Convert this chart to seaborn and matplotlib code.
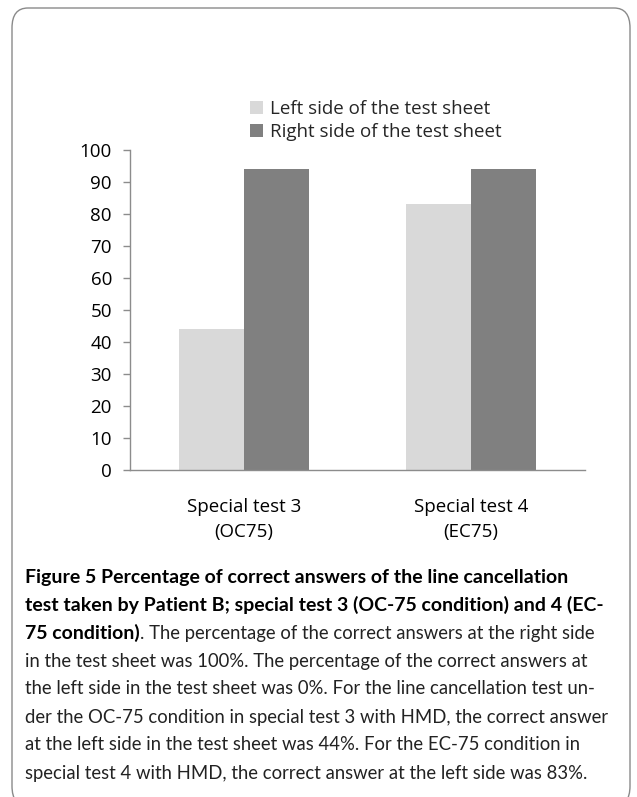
import matplotlib
matplotlib.use("Agg")
import matplotlib.pyplot as plt
import seaborn as sns
import pandas as pd
from matplotlib.patches import FancyBboxPatch

categories = ["Special test 3\n(OC75)", "Special test 4\n(EC75)"]
series_names = ["Left side of the test sheet", "Right side of the test sheet"]
left_values = [44, 83]
right_values = [94, 94]
yticks = [0, 10, 20, 30, 40, 50, 60, 70, 80, 90, 100]
colors = ["#D9D9D9", "#808080"]

caption_bold_lines = [
    "Figure 5 Percentage of correct answers of the line cancellation",
    "test taken by Patient B; special test 3 (OC-75 condition) and 4 (EC-",
]
caption_mixed_bold = "75 condition)"
caption_mixed_regular = ". The percentage of the correct answers at the right side"
caption_regular_lines = [
    "in the test sheet was 100%. The percentage of the correct answers at",
    "the left side in the test sheet was 0%. For the line cancellation test un-",
    "der the OC-75 condition in special test 3 with HMD, the correct answer",
    "at the left side in the test sheet was 44%. For the EC-75 condition in",
    "special test 4 with HMD, the correct answer at the left side was 83%.",
]

sns.set_theme(style="white")
plt.rcParams["font.family"] = ["Open Sans", "DejaVu Sans"]

W, H = 637, 797
fig = plt.figure(figsize=(W / 100, H / 100), dpi=100)
fig.patch.set_facecolor("white")

# border
border = FancyBboxPatch((12 / W, 1 - 806 / H), 618 / W, 798 / H,
                        boxstyle="round,pad=0,rounding_size=0.025",
                        transform=fig.transFigure, fill=False,
                        edgecolor="#8a8a8a", linewidth=1.0)
fig.patches.append(border)

ax = fig.add_axes([130 / W, 1 - 470 / H, 455 / W, 320 / H])

df = pd.DataFrame({
    "category": categories * 2,
    "series": [series_names[0]] * 2 + [series_names[1]] * 2,
    "value": left_values + right_values,
})
sns.barplot(data=df, x="category", y="value", hue="series",
            palette=colors, width=0.572, ax=ax, saturation=1,
            edgecolor="none", linewidth=0)

ax.set_ylim(0, 100)
ax.set_xlim(-0.5, 1.5)
ax.set_yticks(yticks)
ax.set_xlabel("")
ax.set_ylabel("")
for s in ["top", "right"]:
    ax.spines[s].set_visible(False)
for s in ["left", "bottom"]:
    ax.spines[s].set_color("#8c8c8c")
    ax.spines[s].set_linewidth(1.0)
ax.tick_params(axis="y", which="major", left=True, length=5, width=1,
               color="#8c8c8c", labelsize=13.5, pad=8, labelcolor="black")
ax.tick_params(axis="x", which="major", bottom=False, labelsize=13.5, pad=14,
               labelcolor="black")
for lbl in ax.get_xticklabels():
    lbl.set_linespacing(1.5)

leg = ax.legend(loc="upper left", bbox_to_anchor=(250 / W, 1 - 100 / H),
                bbox_transform=fig.transFigure, frameon=False,
                fontsize=13.5, handlelength=0.7, handleheight=0.7,
                handletextpad=0.35, labelspacing=0.28, borderaxespad=0,
                borderpad=0)

# caption
bold_size = 14.0
reg_size = 13.35
x0 = 25 / W
line_y = [577, 605, 633, 661, 689, 717, 745, 773]
cap_family = ["Lato", "DejaVu Sans"]
for i, t in enumerate(caption_bold_lines):
    fig.text(x0, 1 - line_y[i] / H, t, fontsize=bold_size, fontweight="bold",
             family=cap_family, va="center", ha="left", color="black")
tb = fig.text(x0, 1 - line_y[2] / H, caption_mixed_bold, fontsize=bold_size,
              fontweight="bold", family=cap_family, va="center", ha="left",
              color="black")
fig.canvas.draw()
bb = tb.get_window_extent(renderer=fig.canvas.get_renderer())
fig.text(bb.x1 / W, 1 - line_y[2] / H, caption_mixed_regular, fontsize=reg_size,
         family=cap_family, va="center", ha="left", color="#222222")
for j, t in enumerate(caption_regular_lines):
    fig.text(x0, 1 - line_y[3 + j] / H, t, fontsize=reg_size,
             family=cap_family, va="center", ha="left", color="#222222")

fig.savefig("out.png", dpi=100, facecolor="white")
